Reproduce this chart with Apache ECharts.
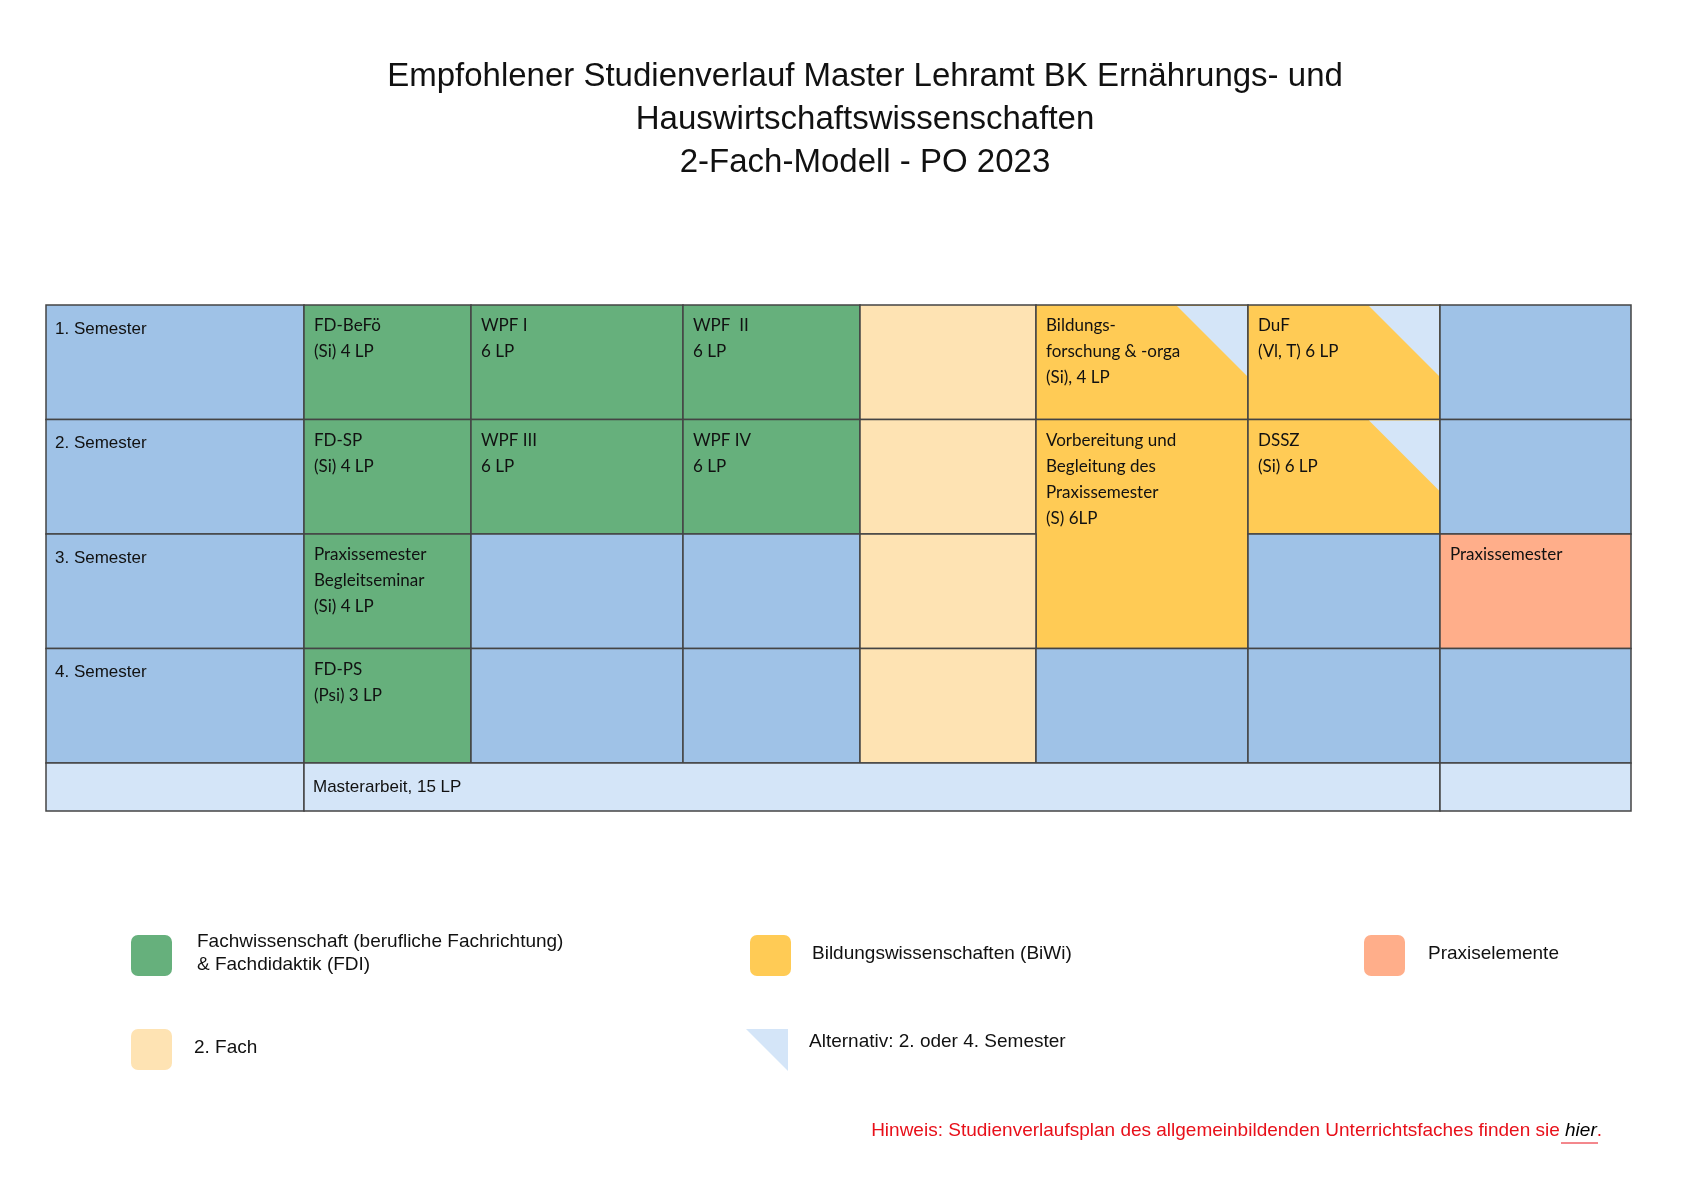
<!DOCTYPE html>
<html><head><meta charset="utf-8">
<script src="https://cdn.jsdelivr.net/npm/echarts@6/dist/echarts.min.js"></script>
<style>html,body{margin:0;padding:0;background:#fff}#c{width:1684px;height:1190px}</style>
</head><body><div id="c"></div>
<script>
// column edges (table units) and row edges
const colEdges = [0, 258, 425, 637, 814, 990, 1202, 1394, 1585];
const rowEdges = [0, 1, 2, 3, 4, 4.42];
const colors = {blue:'#9fc2e7', green:'#66b07c', fach:'#fee3b3', biwi:'#ffcb55', praxis:'#ffae8a', light:'#d4e5f8'};
// cells: [colStart, colEnd, rowStart, rowEnd, colour, label, font]
const cells = [
  [0,1,0,1,'blue','1. Semester','h'],[0,1,1,2,'blue','2. Semester','h'],[0,1,2,3,'blue','3. Semester','h'],[0,1,3,4,'blue','4. Semester','h'],
  [1,2,0,1,'green','FD-BeFö\n(Si) 4 LP','c'],[2,3,0,1,'green','WPF I\n6 LP','c'],[3,4,0,1,'green','WPF  II\n6 LP','c'],[4,5,0,1,'fach','','c'],
  [5,6,0,1,'biwi','Bildungs-\nforschung & -orga\n(Si), 4 LP','c'],[6,7,0,1,'biwi','DuF\n(Vl, T) 6 LP','c'],[7,8,0,1,'blue','','c'],
  [1,2,1,2,'green','FD-SP\n(Si) 4 LP','c'],[2,3,1,2,'green','WPF III\n6 LP','c'],[3,4,1,2,'green','WPF IV\n6 LP','c'],[4,5,1,2,'fach','','c'],
  [5,6,1,3,'biwi','Vorbereitung und\nBegleitung des\nPraxissemester\n(S) 6LP','c'],[6,7,1,2,'biwi','DSSZ\n(Si) 6 LP','c'],[7,8,1,2,'blue','','c'],
  [1,2,2,3,'green','Praxissemester\nBegleitseminar\n(Si) 4 LP','c'],[2,3,2,3,'blue','','c'],[3,4,2,3,'blue','','c'],[4,5,2,3,'fach','','c'],
  [6,7,2,3,'blue','','c'],[7,8,2,3,'praxis','Praxissemester','c'],
  [1,2,3,4,'green','FD-PS\n(Psi) 3 LP','c'],[2,3,3,4,'blue','','c'],[3,4,3,4,'blue','','c'],[4,5,3,4,'fach','','c'],
  [5,6,3,4,'blue','','c'],[6,7,3,4,'blue','','c'],[7,8,3,4,'blue','','c'],
  [0,1,4,5,'light','','h'],[1,7,4,5,'light','Masterarbeit, 15 LP','h'],[7,8,4,5,'light','','h']
];
// alternative-semester triangles: [column right edge index, row index]
const triangles = [[6,0],[7,0],[7,1]];
const titleLines = 'Empfohlener Studienverlauf Master Lehramt BK Ernährungs- und\nHauswirtschaftswissenschaften\n2-Fach-Modell - PO 2023';

const chart = echarts.init(document.getElementById('c'));
const cellData = cells.map(c => [colEdges[c[0]], colEdges[c[1]], rowEdges[c[2]], rowEdges[c[3]], c[4], c[5], c[6]]);
const triData = triangles.map(t => [colEdges[t[0]], rowEdges[t[1]]]);
chart.setOption({
  animation:false,
  title:{text:titleLines,left:860,textAlign:'center',top:50,textStyle:{fontFamily:'Liberation Sans',fontWeight:'normal',fontSize:33,lineHeight:43,color:'#111'}},
  grid:{left:46,top:305,width:1585,height:506},
  xAxis:{type:'value',min:0,max:1585,show:false},
  yAxis:{type:'value',min:0,max:4.42,inverse:true,show:false},
  series:[
    {type:'custom',coordinateSystem:'cartesian2d',data:cellData,z:1,
     renderItem:(p,api)=>{
       const d=cellData[p.dataIndex];
       const a=api.coord([d[0],d[2]]), b=api.coord([d[1],d[3]]);
       return {type:'group',children:[
         {type:'rect',shape:{x:a[0],y:a[1],width:b[0]-a[0],height:b[1]-a[1]},style:{fill:colors[d[4]],stroke:'#444',lineWidth:1.5}},
       ]};
     }},
    {type:'custom',coordinateSystem:'cartesian2d',data:triData,z:2,
     renderItem:(p,api)=>{
       const d=triData[p.dataIndex]; const a=api.coord(d);
       return {type:'polygon',shape:{points:[[a[0]-71,a[1]+1],[a[0]-1,a[1]+1],[a[0]-1,a[1]+71]]},style:{fill:colors.light}};
     }},
    {type:'custom',coordinateSystem:'cartesian2d',data:cellData,z:3,
     renderItem:(p,api)=>{
       const d=cellData[p.dataIndex]; const a=api.coord([d[0],d[2]]);
       const h=d[6]==='h';
       return {type:'text',x:a[0]+(h?9:10),y:a[1]+(h?11:8),style:{text:d[5],fill:'#111',fontFamily:h?'Liberation Sans':'Lato',fontSize:h?17:17,lineHeight:26,textVerticalAlign:'top'}};
     }}
  ],
  graphic:[
    {type:'rect',shape:{x:131,y:935,width:41,height:41,r:7},style:{fill:colors.green}},
    {type:'text',x:197,y:930,style:{text:'Fachwissenschaft (berufliche Fachrichtung)\n& Fachdidaktik (FDI)',fontFamily:'Liberation Sans',fontSize:19,lineHeight:23,fill:'#111'}},
    {type:'rect',shape:{x:750,y:935,width:41,height:41,r:7},style:{fill:colors.biwi}},
    {type:'text',x:812,y:944,style:{text:'Bildungswissenschaften (BiWi)',fontFamily:'Liberation Sans',fontSize:19,fill:'#111'}},
    {type:'rect',shape:{x:1364,y:935,width:41,height:41,r:7},style:{fill:colors.praxis}},
    {type:'text',x:1428,y:944,style:{text:'Praxiselemente',fontFamily:'Liberation Sans',fontSize:19,fill:'#111'}},
    {type:'rect',shape:{x:131,y:1029,width:41,height:41,r:7},style:{fill:colors.fach}},
    {type:'text',x:194,y:1038,style:{text:'2. Fach',fontFamily:'Liberation Sans',fontSize:19,fill:'#111'}},
    {type:'polygon',shape:{points:[[746,1029],[788,1029],[788,1071]]},style:{fill:colors.light}},
    {type:'text',x:809,y:1032,style:{text:'Alternativ: 2. oder 4. Semester',fontFamily:'Liberation Sans',fontSize:19,fill:'#111'}},
    {type:'text',x:1602,y:1121,style:{text:'{a|Hinweis: Studienverlaufsplan des allgemeinbildenden Unterrichtsfaches finden sie }{b|hier}{a|.}',textAlign:'right',rich:{a:{fontFamily:'Liberation Sans',fontSize:19,fill:'#e8101a',color:'#e8101a'},b:{fontFamily:'Liberation Sans',fontSize:19,fontStyle:'italic',color:'#e8101a'}}}},
    {type:'line',shape:{x1:1561,y1:1143,x2:1598,y2:1143},style:{stroke:'#e8101a',lineWidth:1}}
  ]
});
</script></body></html>
